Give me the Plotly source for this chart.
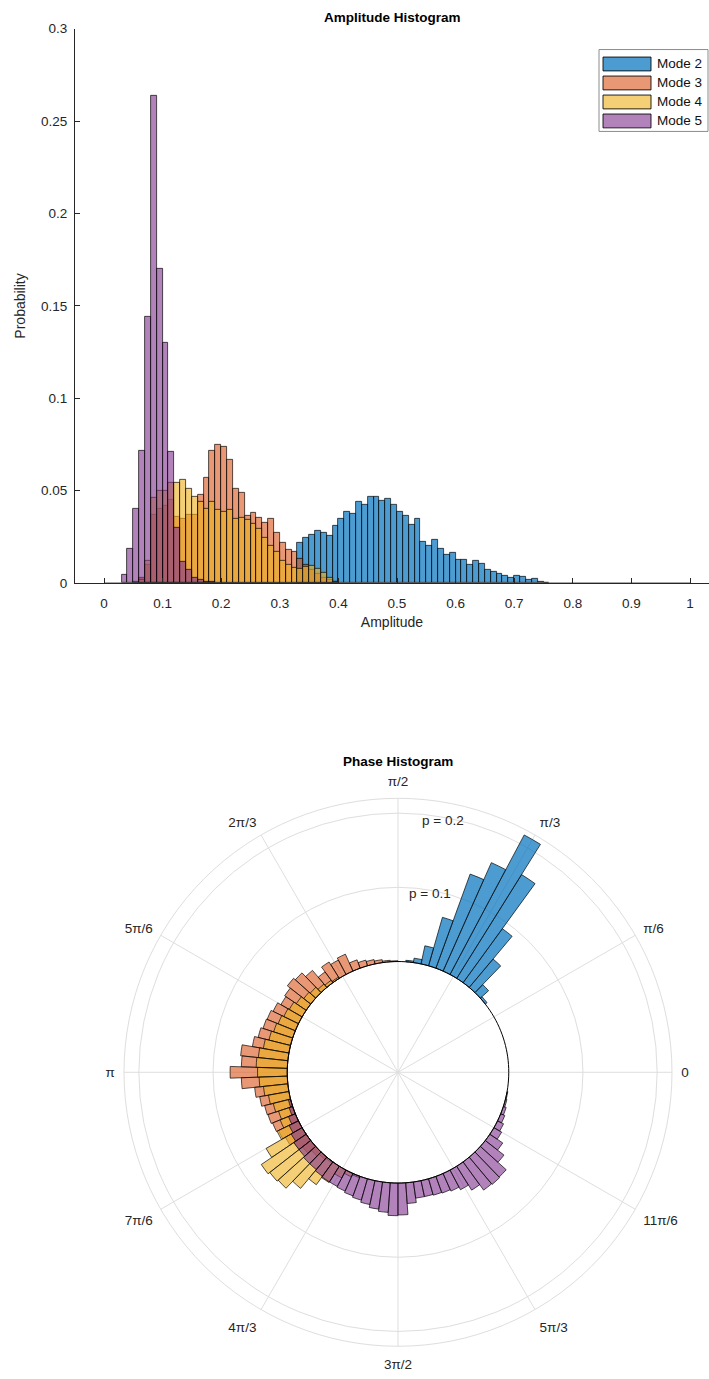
import numpy as np
import plotly.graph_objects as go

# ---------------- data ----------------
amp_bin_width = 0.01
amp_edges = [0.0, 1.0]
amp_xticks = [0, 0.1, 0.2, 0.3, 0.4, 0.5, 0.6, 0.7, 0.8, 0.9, 1]
amp_xticktext = ["0", "0.1", "0.2", "0.3", "0.4", "0.5", "0.6", "0.7", "0.8", "0.9", "1"]
amp_yticks = [0, 0.05, 0.1, 0.15, 0.2, 0.25, 0.3]
amp_yticktext = ["0", "0.05", "0.1", "0.15", "0.2", "0.25", "0.3"]

mode2_amp_start = 0.33
mode2_amp = [0.022, 0.0247, 0.026, 0.0286, 0.0273, 0.0255, 0.0313, 0.0348, 0.0384, 0.0377,
             0.0438, 0.0422, 0.047, 0.0466, 0.0448, 0.0455, 0.0425, 0.0384, 0.0363, 0.0318,
             0.0348, 0.0225, 0.0205, 0.0234, 0.0184, 0.0154, 0.0164, 0.0129, 0.0127, 0.0098,
             0.0121, 0.0107, 0.0071, 0.0064, 0.0052, 0.0041, 0.003, 0.0038, 0.0036, 0.0016,
             0.0023, 0.001, 0.0003]
mode3_amp_start = 0.05
mode3_amp = [0.001, 0.003, 0.010, 0.037, 0.040, 0.042, 0.045, 0.036, 0.035, 0.037,
             0.037, 0.048, 0.057, 0.0715, 0.075, 0.0736, 0.067, 0.0513, 0.0488, 0.0366,
             0.038, 0.0352, 0.0325, 0.0347, 0.0272, 0.0217, 0.018, 0.0172, 0.0134, 0.010,
             0.007, 0.005, 0.003, 0.002, 0.001]
mode4_amp_start = 0.06
mode4_amp = [0.002, 0.012, 0.046, 0.05, 0.05, 0.0545, 0.0545, 0.0557, 0.0513, 0.047,
             0.044, 0.040, 0.044, 0.0397, 0.0384, 0.0397, 0.0348, 0.0352, 0.0343, 0.0322,
             0.0295, 0.0247, 0.0205, 0.017, 0.012, 0.0098, 0.0084, 0.008, 0.009, 0.0095,
             0.008, 0.0055, 0.003, 0.001]
mode5_amp_start = 0.03
mode5_amp = [0.0045, 0.0188, 0.040, 0.0715, 0.144, 0.264, 0.170, 0.130, 0.071, 0.030,
             0.0116, 0.007, 0.003, 0.002, 0.001, 0.001]

phase_bin_width = 4  # degrees
mode2_phase_start = 40
mode2_phase = [0.003, 0.015, 0.05, 0.09, 0.165, 0.213, 0.16, 0.135, 0.068, 0.025, 0.006, 0.002]
mode3_phase_start = 92
mode3_phase = [0.001, 0.002, 0.004, 0.006, 0.008, 0.012, 0.025, 0.022, 0.026, 0.018,
               0.03, 0.037, 0.04, 0.035, 0.033, 0.038, 0.041, 0.042, 0.045, 0.05,
               0.064, 0.062, 0.077, 0.062, 0.045, 0.04, 0.036, 0.035, 0.033, 0.03,
               0.026, 0.02, 0.014, 0.008, 0.004, 0.002]
mode4_phase_start = 124
mode4_phase = [0.002, 0.004, 0.006, 0.01, 0.012, 0.016, 0.02, 0.022, 0.025, 0.027,
               0.03, 0.035, 0.04, 0.042, 0.04, 0.038, 0.033, 0.028, 0.024, 0.02,
               0.022, 0.032, 0.056, 0.073, 0.07, 0.068, 0.055, 0.038, 0.026, 0.012,
               0.005, 0.002]
mode5_phase_start = 196
mode5_phase = [0.003, 0.005, 0.01, 0.014, 0.017, 0.02, 0.02, 0.022, 0.022, 0.024,
               0.025, 0.025, 0.026, 0.028, 0.03, 0.033, 0.037, 0.04, 0.044, 0.043,
               0.028, 0.022, 0.022, 0.023, 0.024, 0.026, 0.03, 0.038, 0.047, 0.048,
               0.047, 0.032, 0.021, 0.012, 0.009, 0.006, 0.004, 0.002, 0.001]

phase_tickvals = [0, 30, 60, 90, 120, 150, 180, 210, 240, 270, 300, 330]
phase_ticktext = ["0", "π/6", "π/3", "π/2", "2π/3", "5π/6", "π", "7π/6", "4π/3", "3π/2", "5π/3", "11π/6"]
r_tickvals = [0.1, 0.2]
r_ticktext = ["p = 0.1", "p = 0.2"]
r_max = 0.22
r_min = -0.1493

names = ["Mode 2", "Mode 3", "Mode 4", "Mode 5"]
colors = ["rgba(0,114,189,0.7)", "rgba(217,83,25,0.6)", "rgba(237,177,32,0.62)", "rgba(126,47,142,0.6)"]

# ---------------- figure ----------------
W, H = 709, 1379
FONT = "Liberation Sans, Arial, Helvetica, sans-serif"
EDGE = "rgba(0,0,0,0.85)"
fig = go.Figure()

amp_sets = [(mode2_amp_start, mode2_amp), (mode3_amp_start, mode3_amp),
            (mode4_amp_start, mode4_amp), (mode5_amp_start, mode5_amp)]
for (start, vals), name, col in zip(amp_sets, names, colors):
    centers = [start + amp_bin_width * (i + 0.5) for i in range(len(vals))]
    fig.add_trace(go.Bar(x=centers, y=vals, width=amp_bin_width, name=name, showlegend=False,
                         marker=dict(color=col, line=dict(color=EDGE, width=0.8)),
                         xaxis="x", yaxis="y"))

# zero-height bins outline along the baseline
fig.add_trace(go.Scatter(x=amp_edges, y=[0, 0], mode="lines", line=dict(color="#555555", width=1.5),
                         showlegend=False, hoverinfo="skip", xaxis="x", yaxis="y"))

phase_sets = [(mode2_phase_start, mode2_phase), (mode3_phase_start, mode3_phase),
              (mode4_phase_start, mode4_phase), (mode5_phase_start, mode5_phase)]
for (start, vals), name, col in zip(phase_sets, names, colors):
    thetas = [start + phase_bin_width * i for i in range(len(vals))]
    fig.add_trace(go.Barpolar(r=vals, theta=thetas, width=phase_bin_width, base=0, name=name,
                              showlegend=False,
                              marker=dict(color=col, line=dict(color=EDGE, width=0.8)),
                              subplot="polar"))

ring_theta = list(range(0, 361, 2))
fig.add_trace(go.Scatterpolar(r=[0] * len(ring_theta), theta=ring_theta, mode="lines",
                              line=dict(color="black", width=1), showlegend=False,
                              hoverinfo="skip", subplot="polar"))

# geometry (pixels)
ax_l, ax_r, ax_t, ax_b = 75, 709, 22, 582.5
x0_px, x1_px = 104, 690
xscale = (x1_px - x0_px) / 1.0
xr = [-(x0_px - ax_l) / xscale, (ax_r - x0_px) / xscale]

pcx, pcy, pR = 398, 1077, 277

fig.update_layout(
    width=W, height=H, margin=dict(l=0, r=0, t=0, b=0),
    paper_bgcolor="white", plot_bgcolor="white",
    font=dict(family=FONT, size=13, color="#262626"),
    barmode="overlay", bargap=0,
    showlegend=False,
    xaxis=dict(domain=[ax_l / W, ax_r / W], range=xr, tickvals=amp_xticks, ticktext=amp_xticktext,
               ticks="inside", ticklen=5, tickcolor="#262626", showline=True, linecolor="#262626",
               linewidth=1, showgrid=False, zeroline=False, ticklabelstandoff=8,
               tickfont=dict(size=13.5),
               title=dict(text="Amplitude", font=dict(size=14), standoff=6), anchor="y"),
    yaxis=dict(domain=[1 - ax_b / H, 1 - ax_t / H], range=[0, 0.3], tickvals=amp_yticks,
               ticktext=amp_yticktext, ticks="inside", ticklen=5, tickcolor="#262626",
               showline=True, linecolor="#262626", linewidth=1, showgrid=False, zeroline=False,
               ticklabelstandoff=4, tickfont=dict(size=13.5),
               title=dict(text="Probability", font=dict(size=14), standoff=12), anchor="x"),
    polar=dict(
        domain=dict(x=[(pcx - pR) / W, (pcx + pR) / W], y=[1 - (pcy + pR) / H, 1 - (pcy - pR) / H]),
        bgcolor="white",
        angularaxis=dict(rotation=0, direction="counterclockwise", tickmode="array",
                         tickvals=phase_tickvals, ticktext=phase_ticktext,
                         ticks="outside", ticklen=6, tickcolor="rgba(0,0,0,0)",
                         showgrid=True, gridcolor="#dedede", gridwidth=1,
                         showline=True, linecolor="#dedede", linewidth=1,
                         tickfont=dict(size=13.5, color="#262626")),
        radialaxis=dict(range=[r_min, r_max], tickvals=r_tickvals, ticktext=r_ticktext,
                        showticklabels=False, ticks="", showline=False, angle=80,
                        showgrid=True, gridcolor="#dedede", gridwidth=1),
    ),
)

ann = []
shapes = []
ann.append(dict(text="<b>Amplitude Histogram</b>", x=(ax_l + ax_r) / 2 / W, y=1 - 11 / H,
                xref="paper", yref="paper", showarrow=False, font=dict(size=13.5, color="black"),
                xanchor="center", yanchor="middle"))
ann.append(dict(text="<b>Phase Histogram</b>", x=pcx / W, y=1 - 763 / H,
                xref="paper", yref="paper", showarrow=False, font=dict(size=13.5, color="black"),
                xanchor="center", yanchor="middle"))
pscale = pR / (r_max - r_min)
for rv, rt in zip(r_tickvals, r_ticktext):
    rp = (rv - r_min) * pscale
    px = pcx + rp * np.cos(np.radians(80))
    py = pcy - rp * np.sin(np.radians(80))
    ann.append(dict(text=rt, x=px / W, y=1 - (py + 3) / H, xref="paper", yref="paper",
                    showarrow=False, font=dict(size=13.5, color="#262626"),
                    xanchor="center", yanchor="middle"))

# legend box (northeast, inside the axes)
lg_l, lg_r, lg_t, row_h = 599, 708, 43, 19.2
lg_b = lg_t + 4 + row_h * len(names) + 2
shapes.append(dict(type="rect", xref="paper", yref="paper", x0=lg_l / W, x1=lg_r / W,
                   y0=1 - lg_b / H, y1=1 - lg_t / H, line=dict(color="#8c8c8c", width=1),
                   fillcolor="white", layer="above"))
for i, (name, col) in enumerate(zip(names, colors)):
    cy = lg_t + 4 + row_h * (i + 0.5) + 1
    shapes.append(dict(type="rect", xref="paper", yref="paper", x0=(lg_l + 4) / W, x1=(lg_l + 52) / W,
                       y0=1 - (cy + 7) / H, y1=1 - (cy - 7) / H, fillcolor=col,
                       line=dict(color=EDGE, width=1), layer="above"))
    ann.append(dict(text=name, x=(lg_l + 56) / W, y=1 - cy / H, xref="paper", yref="paper",
                    showarrow=False, font=dict(size=13.5, color="#111111"),
                    xanchor="left", yanchor="middle"))

fig.update_layout(annotations=ann, shapes=shapes)

fig.write_html("out.html")
